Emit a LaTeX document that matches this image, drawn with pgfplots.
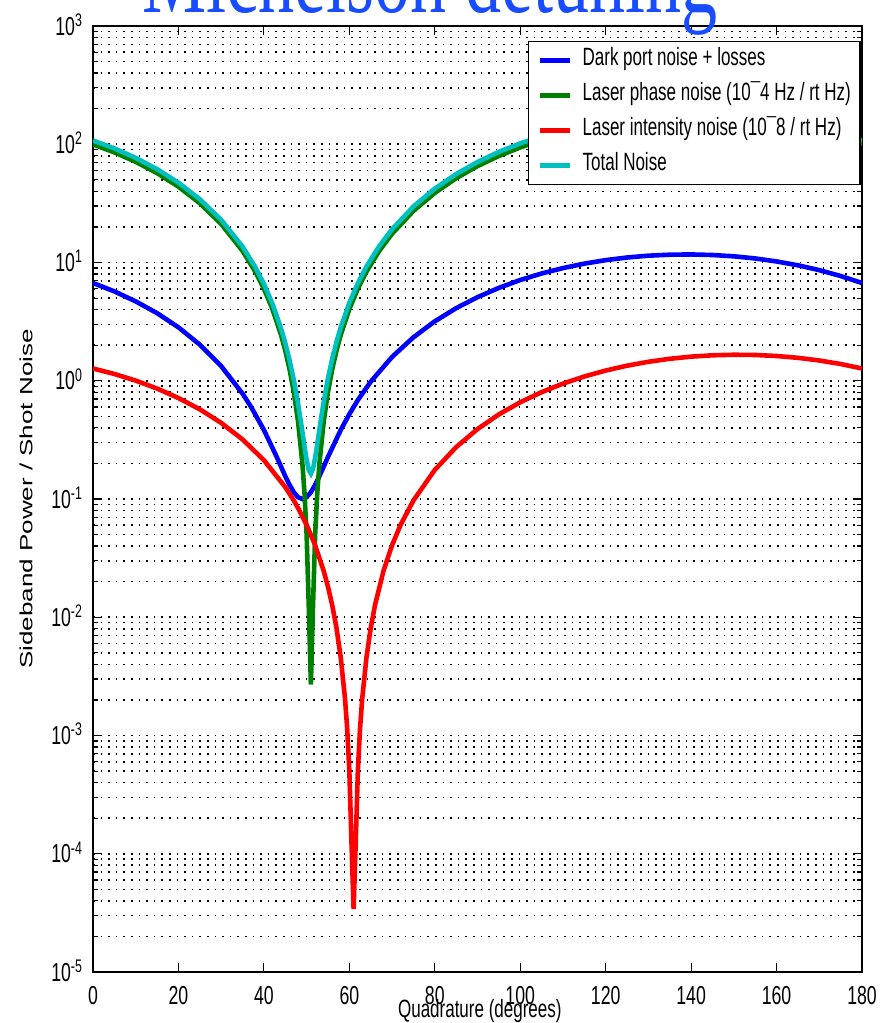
\documentclass[border=0pt]{standalone}
\usepackage{fontspec}
\usepackage{graphicx}
\usepackage{pgfplots}
\pgfplotsset{compat=1.18}
\setmainfont{Liberation Sans}[FakeStretch=0.68]
\newfontfamily\ylfont{Liberation Sans}
\newfontfamily\titlefont{Liberation Serif}[FakeStretch=0.68]
\definecolor{mblue}{rgb}{0,0,1}
\definecolor{mgreen}{rgb}{0,0.5,0}
\definecolor{mred}{rgb}{1,0,0}
\definecolor{mcyan}{rgb}{0,0.75,0.75}
\definecolor{titleblue}{rgb}{0.1,0.3,1}

\begin{document}
\begin{tikzpicture}
\useasboundingbox (-46.5pt,-25.5pt) rectangle (393pt,486pt);
\clip (-46.5pt,-25.5pt) rectangle (393pt,486pt);
\begin{axis}[
  at={(0pt,0pt)}, anchor=south west,
  scale only axis, width=384.5pt, height=473pt,
  ymode=log, xmin=0, xmax=180, ymin=1e-5, ymax=1e3,
  xtick={0,20,...,180},
  ytick={1e-5,1e-4,1e-3,1e-2,1e-1,1,1e1,1e2,1e3},
  yticklabels={10\textsuperscript{-5},10\textsuperscript{-4},10\textsuperscript{-3},10\textsuperscript{-2},10\textsuperscript{-1},10\textsuperscript{0},10\textsuperscript{1},10\textsuperscript{2},10\textsuperscript{3}},
  minor ytick={2e-5,3e-5,4e-5,5e-5,6e-5,7e-5,8e-5,9e-5,
    2e-4,3e-4,4e-4,5e-4,6e-4,7e-4,8e-4,9e-4,
    2e-3,3e-3,4e-3,5e-3,6e-3,7e-3,8e-3,9e-3,
    0.02,0.03,0.04,0.05,0.06,0.07,0.08,0.09,
    0.2,0.3,0.4,0.5,0.6,0.7,0.8,0.9,
    2,3,4,5,6,7,8,9,
    20,30,40,50,60,70,80,90,
    200,300,400,500,600,700,800,900},
  tick align=inside,
  major tick length=4.5pt, minor tick length=2.5pt,
  tick style={black, line width=0.6pt},
  axis line style={line width=0.75pt},
  ymajorgrids, yminorgrids,
  major grid style={black, line width=0.8pt, dash pattern=on 0.8pt off 3pt},
  minor grid style={black, line width=0.8pt, dash pattern=on 0.8pt off 3pt},
  /pgf/number format/assume math mode=true,
  tick label style={font=\fontsize{13}{15}\selectfont},
  xticklabel style={yshift=-3.5pt},
  yticklabel style={anchor=base east, yshift=-4.6pt, xshift=-1.5pt},
  xlabel={Quadrature (degrees)},
  xlabel style={at={(rel axis cs:0.503,-0.0412)}, anchor=center, font=\fontsize{12.5}{14}\selectfont},
  ylabel={\scalebox{1}[0.68]{\ylfont\fontsize{13}{15}\selectfont Sideband Power / Shot Noise}},
  ylabel style={at={(rel axis cs:-0.0871,0.5)}, anchor=center},
  legend style={at={(rel axis cs:0.5657,0.9841)}, anchor=north west,
    draw=black, line width=0.6pt, fill=white,
    inner xsep=4.5pt, inner ysep=0.75pt, row sep=0pt,
    font=\fontsize{12.5}{14}\selectfont,
    nodes={inner sep=0pt, minimum height=17.5pt, text height=0.72em, text depth=0.2em}},
  legend cell align=left,
  legend image code/.code={\draw[#1, line width=2.7pt] (0pt,0pt) -- (15pt,0pt); \path (20pt,0pt);},
]
% dark port noise + losses
\addplot[color=mblue, line width=2.3pt] table {
x y
0 6.71
5 5.70
10 4.69
15 3.73
20 2.83
25 2.02
30 1.33
35 0.779
37 0.601
40 0.384
43 0.227
45 0.156
46 0.132
47 0.114
48 0.1035
49 0.100
50 0.1035
51 0.114
52 0.132
53 0.156
55 0.227
58 0.384
60 0.522
62 0.687
65 0.981
70 1.59
75 2.33
80 3.18
85 4.11
90 5.09
95 6.10
100 7.11
105 8.07
110 8.97
115 9.78
120 10.47
125 11.02
130 11.42
135 11.64
140 11.70
145 11.57
150 11.28
155 10.82
160 10.21
165 9.47
170 8.62
175 7.69
180 6.71
};
% laser phase noise
\addplot[color=mgreen, line width=2.3pt] table {
x y
0 99.65
5 85.38
10 71.02
15 57.01
20 43.77
25 31.71
30 21.19
35 12.54
38 8.349
40 6.007
42 4.038
44 2.451
45 1.803
46 1.253
47 0.8029
48 0.4519
49 0.2010
49.5 0.1131
50 0.05026
50.5 0.01256
51 0.0027
51.5 0.01256
52 0.05026
52.5 0.1131
53 0.2010
54 0.4519
55 0.8029
56 1.253
57 1.803
58 2.451
60 4.038
62 6.007
64 8.349
67 12.54
70 17.49
75 27.30
80 38.78
85 51.59
90 65.35
95 79.62
100 93.98
105 108.0
110 121.2
115 133.3
120 143.8
125 152.5
130 159.0
135 163.2
140 164.9
145 164.2
150 161.0
155 155.3
160 147.5
165 137.7
170 126.2
175 113.4
180 99.65
};
% laser intensity noise
\addplot[color=mred, line width=2.3pt] table {
x y
0 1.270
5 1.141
10 1.003
15 0.859
20 0.7145
25 0.5735
30 0.4403
35 0.3190
40 0.2132
45 0.1261
47 0.0972
48 0.0840
50 0.06044
52 0.04062
54 0.02465
55 0.01814
56 0.01261
57 0.008078
58 0.004547
59 0.002022
59.5 0.0011375
60 0.000506
60.5 0.0001264
61 0.000034
61.5 0.0001264
62 0.000506
62.5 0.0011375
63 0.002022
64 0.004547
65 0.008078
66 0.01261
68 0.02465
70 0.04062
72 0.06044
75 0.09715
80 0.1760
85 0.2746
90 0.3902
95 0.5191
100 0.6574
105 0.8010
110 0.9455
115 1.0865
120 1.2197
125 1.341
130 1.4468
135 1.5339
140 1.5996
145 1.6419
150 1.6595
155 1.6519
160 1.6194
165 1.5628
170 1.4840
175 1.3854
180 1.2698
};
% total
\addplot[color=mcyan, line width=2.3pt] table {
x y
0 107.6
5 92.22
10 76.71
15 61.60
20 47.31
25 34.30
30 22.96
35 13.64
38 9.124
40 6.604
42 4.486
44 2.781
45 2.085
46 1.496
47 1.014
48 0.6394
49 0.3728
49.5 0.2800
50 0.2142
50.5 0.1756
51 0.1640
51.5 0.1799
52 0.2229
52.5 0.2926
53 0.3892
54 0.6647
55 1.048
56 1.538
57 2.136
58 2.840
60 4.561
62 6.695
64 9.231
67 13.77
70 19.12
75 29.73
80 42.14
85 55.97
90 70.83
95 86.24
100 101.75
105 116.9
110 131.1
115 144.2
120 155.5
125 164.9
130 171.9
135 176.4
140 178.2
145 177.4
150 173.9
155 167.8
160 159.3
165 148.7
170 136.3
175 122.5
180 107.6
};
\legend{Dark port noise + losses, Laser phase noise (10¯4 Hz / rt Hz), Laser intensity noise (10¯8 / rt Hz), Total Noise}
\end{axis}
\node[anchor=base, text=titleblue, font=\titlefont\fontsize{53}{60}\selectfont, inner sep=0pt] at (168.5pt,479.5pt) {Michelson detuning};
\end{tikzpicture}
\end{document}
